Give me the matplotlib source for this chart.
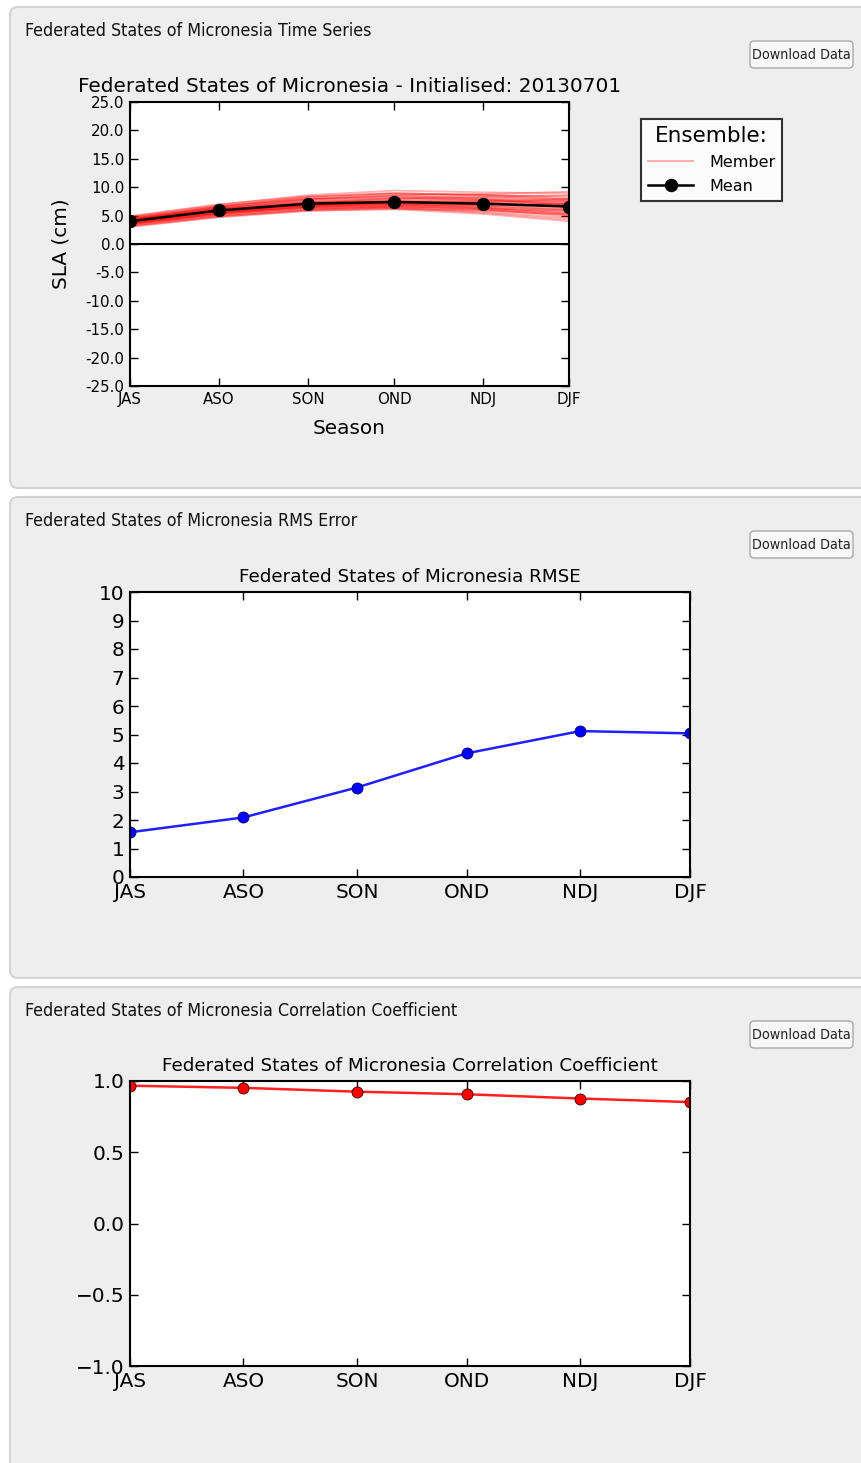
import numpy as np
import matplotlib
matplotlib.use('Agg')
import matplotlib.pyplot as plt
from matplotlib.patches import FancyBboxPatch
from matplotlib.lines import Line2D
from matplotlib.ticker import FormatStrFormatter, MultipleLocator, FuncFormatter

# datos
seasons = ['JAS', 'ASO', 'SON', 'OND', 'NDJ', 'DJF']
days = [0, 31, 62, 92, 123, 153]  # dias desde el 1 de julio
sla_mean = [4.0, 5.9, 7.1, 7.4, 7.1, 6.6]
members = [
    [4.5, 6.6, 8.2, 8.8, 8.6, 8.4],
    [3.6, 5.3, 6.4, 6.7, 6.2, 5.4],
    [4.2, 6.1, 7.5, 7.9, 7.8, 7.4],
    [3.2, 4.9, 5.9, 6.1, 5.3, 4.0],
    [4.8, 6.9, 8.6, 9.4, 9.1, 8.9],
    [3.9, 5.7, 6.9, 7.2, 7.0, 6.8],
    [4.1, 6.0, 7.3, 7.6, 7.3, 6.5],
    [3.5, 5.1, 6.2, 6.3, 5.7, 4.6],
    [4.4, 6.4, 7.8, 8.4, 8.2, 7.9],
    [3.8, 5.5, 6.7, 7.0, 6.6, 5.9],
    [4.3, 6.3, 7.4, 7.5, 7.1, 6.3],
    [3.0, 4.7, 5.8, 6.2, 5.9, 5.2],
    [4.6, 6.5, 7.9, 8.2, 7.7, 7.0],
    [3.7, 5.8, 7.0, 7.3, 6.8, 6.1],
    [4.0, 6.2, 7.6, 8.0, 8.3, 8.6],
    [3.4, 5.2, 6.5, 6.9, 6.4, 5.6],
    [4.7, 6.7, 8.0, 8.5, 8.0, 7.6],
    [3.9, 5.6, 6.6, 6.8, 6.9, 7.1],
    [4.2, 6.0, 7.2, 7.7, 7.5, 7.2],
    [3.3, 5.0, 6.1, 6.4, 5.5, 4.3],
    [4.4, 5.9, 6.8, 7.1, 7.4, 7.6],
    [3.6, 5.4, 7.2, 8.1, 7.9, 6.9],
    [4.1, 6.3, 7.9, 8.6, 8.8, 9.2],
    [3.8, 5.4, 6.3, 6.5, 6.0, 5.1],
    [4.5, 6.2, 7.1, 7.3, 7.2, 6.9],
    [3.1, 4.8, 6.0, 6.6, 6.3, 5.8],
    [4.3, 6.6, 8.3, 9.0, 8.5, 7.8],
    [3.7, 5.5, 6.8, 7.4, 7.6, 7.9],
    [4.0, 5.8, 6.9, 7.0, 6.4, 5.3],
    [4.9, 7.0, 8.4, 8.9, 8.7, 8.1],
    [3.5, 5.3, 6.6, 7.1, 6.7, 6.0],
    [4.2, 5.7, 6.5, 6.6, 6.1, 4.9],
]
rmse = [1.57, 2.09, 3.14, 4.34, 5.12, 5.04]
corr = [0.967, 0.952, 0.925, 0.907, 0.877, 0.852]

W, H = 861, 1463
px = 0.72  # puntos por pixel a 100 dpi

fig = plt.figure(figsize=(W / 100, H / 100), dpi=100, facecolor='white')

# fondo tipo pagina web
bg = fig.add_axes([0, 0, 1, 1], zorder=-10)
bg.set_xlim(0, W)
bg.set_ylim(H, 0)
bg.axis('off')

panels = [(7, 488, 'Federated States of Micronesia Time Series', 41),
          (497, 978, 'Federated States of Micronesia RMS Error', 531),
          (987, 1480, 'Federated States of Micronesia Correlation Coefficient', 1021)]
for top, bot, txt, by in panels:
    bg.add_patch(FancyBboxPatch((10, top), 870, bot - top,
                                boxstyle='round,pad=0,rounding_size=8',
                                fc='#eeeeee', ec='#d4d4d4', lw=1.5))
    bg.text(25, top + 24, txt, fontsize=17.8 * px, fontstretch='condensed',
            color='#111111', va='center', ha='left')
    bg.add_patch(FancyBboxPatch((750, by), 103, 27,
                                boxstyle='round,pad=0,rounding_size=4',
                                fc='#f7f7f7', ec='#a8a8a8', lw=1))
    bg.text(801.5, by + 14, 'Download Data', fontsize=14.3 * px,
            fontstretch='condensed', color='#222222', va='center', ha='center')


def estilo(ax, fs):
    ax.tick_params(direction='in', top=True, right=True, length=6,
                   width=1, labelsize=fs, pad=4)
    for s in ax.spines.values():
        s.set_linewidth(1.5)
    ax.set_xticks(days)
    ax.set_xticklabels(seasons)
    ax.set_xlim(days[0], days[-1])


# serie de tiempo
ax1 = fig.add_axes([130 / W, 1 - 386 / H, 439 / W, 284 / H])
for m in members:
    ax1.plot(days, m, color='red', alpha=0.3, lw=1.3)
ax1.plot(days, sla_mean, color='black', lw=1.8, marker='o', ms=12 * px)
ax1.axhline(0, color='black', lw=1.5)
ax1.set_ylim(-25, 25)
ax1.yaxis.set_major_locator(MultipleLocator(5))
ax1.yaxis.set_major_formatter(FormatStrFormatter('%.1f'))
estilo(ax1, 15 * px)
ax1.set_title('Federated States of Micronesia - Initialised: 20130701',
              fontsize=20 * px, pad=7)
ax1.set_ylabel('SLA (cm)', fontsize=20 * px, labelpad=11)
ax1.set_xlabel('Season', fontsize=20 * px, labelpad=9)
handles = [Line2D([], [], color='red', alpha=0.3, lw=1.5),
           Line2D([], [], color='black', lw=1.8, marker='o', ms=12 * px)]
leg = fig.legend(handles, ['Member', 'Mean'], title='Ensemble:',
                 loc='upper left', bbox_to_anchor=(641 / W, 1 - 119 / H),
                 fontsize=16 * px, title_fontsize=21.5 * px, frameon=True,
                 fancybox=False, borderaxespad=0, handlelength=2.8,
                 handletextpad=1.0, borderpad=0.45, labelspacing=0.55)
leg.get_frame().set_edgecolor('black')
leg.get_frame().set_linewidth(1.5)

# RMSE
ax2 = fig.add_axes([130 / W, 1 - 877 / H, 560 / W, 285 / H])
ax2.plot(days, rmse, color='#2020ff', lw=1.8, marker='o', ms=11 * px,
         mfc='blue', mec='#000066', mew=0.6)
ax2.set_ylim(0, 10)
ax2.yaxis.set_major_locator(MultipleLocator(1))
estilo(ax2, 20 * px)
ax2.set_title('Federated States of Micronesia RMSE', fontsize=18.4 * px, pad=7)

# correlacion
ax3 = fig.add_axes([130 / W, 1 - 1366 / H, 560 / W, 285 / H])
ax3.plot(days, corr, color='#ff2020', lw=1.8, marker='o', ms=11 * px,
         mfc='red', mec='#330000', mew=0.6)
ax3.set_ylim(-1, 1)
ax3.yaxis.set_major_locator(MultipleLocator(0.5))
ax3.yaxis.set_major_formatter(FuncFormatter(lambda v, p: ('%.1f' % v).replace('-', '\u2212')))
estilo(ax3, 20 * px)
ax3.set_title('Federated States of Micronesia Correlation Coefficient',
              fontsize=18.4 * px, pad=7)

fig.savefig('out.png', dpi=100)
